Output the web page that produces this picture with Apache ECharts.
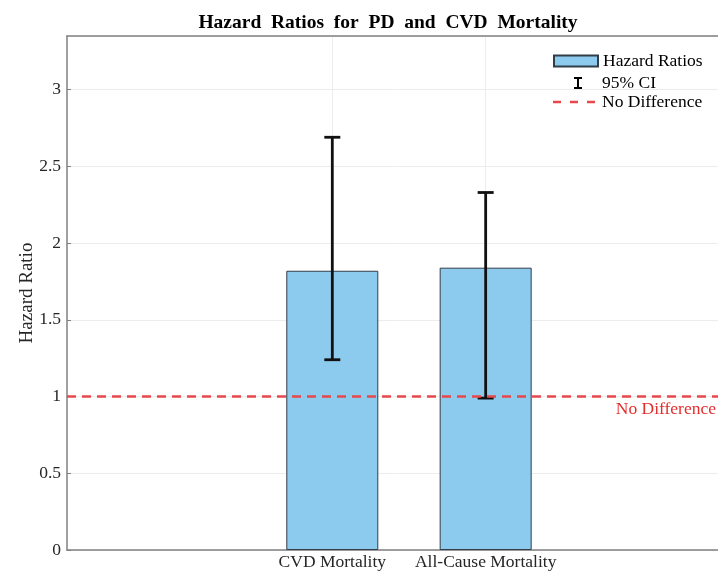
<!DOCTYPE html>
<html>
<head>
<meta charset="utf-8">
<script src="https://cdn.jsdelivr.net/npm/echarts@6/dist/echarts.min.js"></script>
<style>html,body{margin:0;padding:0;background:#fff}#c{width:718px;height:572px}</style>
</head>
<body>
<div id="c"></div>
<script>
const categories = ['CVD Mortality', 'All-Cause Mortality'];
const hazardRatios = [1.82, 1.84];
const ciLower = [1.24, 0.99];
const ciUpper = [2.69, 2.33];
const referenceValue = 1;
const yTickStep = 0.5;

const FONT = "'Liberation Serif', 'Times New Roman', 'DejaVu Serif', serif";
const X_MIN = -0.73, X_MAX = 3.515;
const positions = categories.map((c, i) => i + 1);

const chart = echarts.init(document.getElementById('c'));
chart.setOption({
  animation: false,
  backgroundColor: '#fff',
  title: {
    text: 'Hazard\u2002Ratios\u2002for\u2002PD\u2002and\u2002CVD\u2002Mortality',
    left: 383, top: 8, textAlign: 'center',
    textStyle: { fontFamily: FONT, fontWeight: 'bold', fontSize: 19.5, color: '#000' }
  },
  grid: { left: 67, right: 0, top: 36, bottom: 22, containLabel: false, outerBoundsMode: 'none' },
  legend: [
    {
      data: [{ name: 'Hazard Ratios', icon: 'rect' }],
      left: 553, top: 51, padding: 0, itemWidth: 44, itemHeight: 11,
      textStyle: { fontFamily: FONT, fontSize: 17.5, color: '#000', lineHeight: 20 },
      selectedMode: false
    },
    {
      data: [{ name: '95% CI', icon: 'path://M0,0 M44,12 M21,0h8v2h-8z M24,0h2v12h-2z M21,10h8v2h-8z',
               itemStyle: { color: '#000', borderWidth: 0 } }],
      left: 553, top: 73, padding: 0, itemWidth: 44, itemHeight: 12,
      textStyle: { fontFamily: FONT, fontSize: 17.5, color: '#000', lineHeight: 20 },
      selectedMode: false
    },
    {
      data: [{ name: 'No Difference', icon: 'path://M0,0 M44,2.5 M0,0h8v2.5h-8z M17,0h8v2.5h-8z M34,0h8v2.5h-8z',
               itemStyle: { color: '#e8474b', borderWidth: 0 } }],
      left: 553, top: 92, padding: 0, itemWidth: 44, itemHeight: 2.5,
      textStyle: { fontFamily: FONT, fontSize: 17.5, color: '#000', lineHeight: 20 },
      selectedMode: false
    }
  ],
  xAxis: [
    {
      type: 'value', min: X_MIN, max: X_MAX, position: 'bottom',
      axisLine: { show: true, onZero: false, lineStyle: { color: '#808080', width: 1.5 } },
      axisTick: { show: true, inside: true, length: 4, customValues: positions, lineStyle: { color: '#808080' } },
      axisLabel: {
        customValues: positions, margin: 3,
        formatter: v => categories[Math.round(v) - 1] || '',
        fontFamily: FONT, fontSize: 17.5, color: '#262626'
      },
      splitLine: { show: true, lineStyle: { color: '#ececec', width: 1 } }
    },
    {
      type: 'value', min: X_MIN, max: X_MAX, position: 'top',
      axisLine: { show: true, onZero: false, lineStyle: { color: '#808080', width: 1.5 } },
      axisTick: { show: false }, axisLabel: { show: false }, splitLine: { show: false }
    }
  ],
  yAxis: {
    type: 'value', min: 0, max: 3.35, interval: yTickStep, position: 'left',
    name: 'Hazard Ratio', nameLocation: 'middle', nameGap: 30, nameMoveOverlap: false,
    nameTextStyle: { fontFamily: FONT, fontSize: 19, color: '#262626' },
    axisLine: { show: true, onZero: false, lineStyle: { color: '#808080', width: 1.5 } },
    axisTick: { show: true, inside: true, length: 4, lineStyle: { color: '#808080' } },
    axisLabel: { showMaxLabel: false, margin: 6, fontFamily: FONT, fontSize: 17.5, color: '#262626' },
    splitLine: { show: true, lineStyle: { color: '#ececec', width: 1 } }
  },
  series: [
    {
      name: 'Hazard Ratios', type: 'bar', xAxisIndex: 0,
      data: positions.map((p, i) => [p, hazardRatios[i]]),
      barWidth: 92, z: 2,
      itemStyle: { color: '#8dcbee', borderColor: '#333d48', borderWidth: 1 },
      emphasis: { disabled: true }, silent: true
    },
    {
      name: '95% CI', type: 'custom', xAxisIndex: 0, z: 4, silent: true,
      itemStyle: { color: '#000' },
      data: positions.map((p, i) => [p, ciLower[i], ciUpper[i]]),
      renderItem: (params, api) => {
        const lo = api.coord([api.value(0), api.value(1)]);
        const hi = api.coord([api.value(0), api.value(2)]);
        const hw = 8;
        const st = { stroke: '#111', lineWidth: 2.8 };
        return {
          type: 'group',
          children: [
            { type: 'line', shape: { x1: lo[0], y1: lo[1], x2: hi[0], y2: hi[1] }, style: st },
            { type: 'line', shape: { x1: hi[0] - hw, y1: hi[1], x2: hi[0] + hw, y2: hi[1] }, style: st },
            { type: 'line', shape: { x1: lo[0] - hw, y1: lo[1], x2: lo[0] + hw, y2: lo[1] }, style: st }
          ]
        };
      }
    },
    {
      name: 'No Difference', type: 'line', xAxisIndex: 0, z: 5, data: [],
      itemStyle: { color: '#e8474b' }, lineStyle: { color: '#e8474b' }, symbol: 'none',
      markLine: {
        silent: true, symbol: ['none', 'none'], animation: false,
        lineStyle: { color: '#e8474b', width: 2.5, type: [9, 6] },
        label: {
          show: true, position: 'insideEndBottom', formatter: 'No Difference',
          fontFamily: FONT, fontSize: 17.5, color: '#e52d2d', distance: [2, 4]
        },
        emphasis: { disabled: true },
        data: [{ yAxis: referenceValue }]
      }
    }
  ]
});
</script>
</body>
</html>
